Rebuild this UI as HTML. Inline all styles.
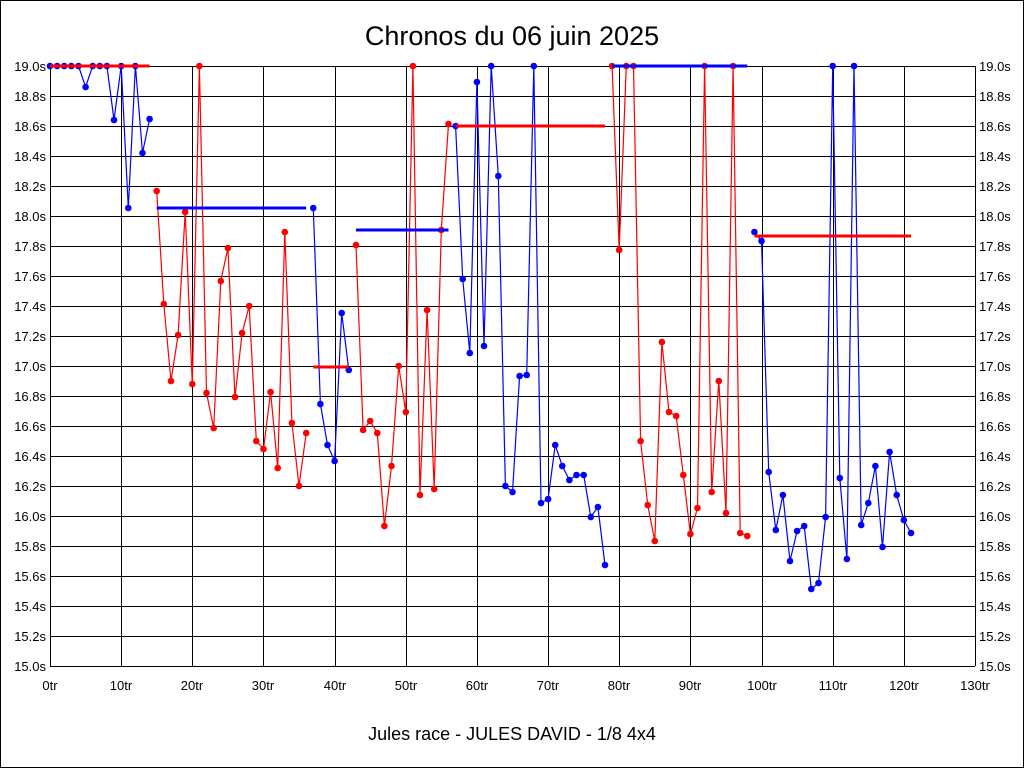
<!DOCTYPE html>
<html><head><meta charset="utf-8"><style>
html,body{margin:0;padding:0;background:#fff}
svg{display:block}
text{font-family:"Liberation Sans",sans-serif}
</style></head><body>
<svg id="s" width="1024" height="768" xmlns="http://www.w3.org/2000/svg">
<rect x="0.5" y="0.5" width="1023" height="767" fill="#fff" stroke="#000"/>
<text x="512" y="45" font-size="27" text-anchor="middle">Chronos du 06 juin 2025</text>
<text x="512" y="740" font-size="18" text-anchor="middle">Jules race - JULES DAVID - 1/8 4x4</text>
<g id="g"></g>
</svg>
<script>
var g=document.getElementById('g'),h='';
var X0=50,X1=975,Y0=66,Y1=666;
for(var i=0;i<=20;i++){var y=Y0+i*30;h+='<line x1="50" x2="975" y1="'+(y+.5)+'" y2="'+(y+.5)+'" stroke="#000"/>';
var v=(19-i*0.2).toFixed(1)+'s';
h+='<text x="46" y="'+(y+5)+'" font-size="13" text-anchor="end">'+v+'</text>';
h+='<text x="979" y="'+(y+5)+'" font-size="13">'+v+'</text>';}
for(var i=0;i<=13;i++){var x=Math.round(X0+i*925/13);h+='<line y1="66" y2="666" x1="'+(x+.5)+'" x2="'+(x+.5)+'" stroke="#000"/>';
h+='<text x="'+x+'" y="690" font-size="13" text-anchor="middle">'+(i*10)+'tr</text>';}
var Y=[66,66,66,66,66,87,66,66,66,120,66,208,66,153,119,
191,304,381,335,212,384,66,393,428,281,248,397,333,306,441,449,392,468,232,423,486,433,
208,404,445,461,313,370,
245,430,421,433,526,466,366,412,66,495,310,489,230,124,
126,279,353,82,346,66,176,486,492,376,375,66,503,499,445,466,480,475,475,517,507,565,
66,250,66,66,441,505,541,342,412,416,475,534,508,66,492,381,513,66,533,536,
232,241,472,530,495,561,531,526,589,583,517,66,478,559,66,525,503,466,547,452,495,520,533];
var segs=[[0,14,'#00f',66,'#f00'],[15,36,'#f00',208,'#00f'],[37,42,'#00f',367,'#f00'],[43,56,'#f00',230,'#00f'],[57,78,'#00f',126,'#f00'],[79,98,'#f00',66,'#00f'],[99,121,'#00f',236,'#f00']];
function px(l){return X0+l*925/130;}
segs.forEach(function(s){var p=[];for(var l=s[0];l<=s[1];l++)p.push(px(l).toFixed(1)+','+Y[l]);
h+='<polyline points="'+p.join(' ')+'" fill="none" stroke="'+s[2]+'" stroke-width="1.2"/>';
for(var l=s[0];l<=s[1];l++)h+='<circle cx="'+px(l).toFixed(1)+'" cy="'+Y[l]+'" r="3.3" fill="'+s[2]+'"/>';
h+='<line x1="'+px(s[0]).toFixed(1)+'" x2="'+px(s[1]).toFixed(1)+'" y1="'+s[3]+'" y2="'+s[3]+'" stroke="'+s[4]+'" stroke-width="3"/>';
});
g.innerHTML=h;
</script>
</body></html>
